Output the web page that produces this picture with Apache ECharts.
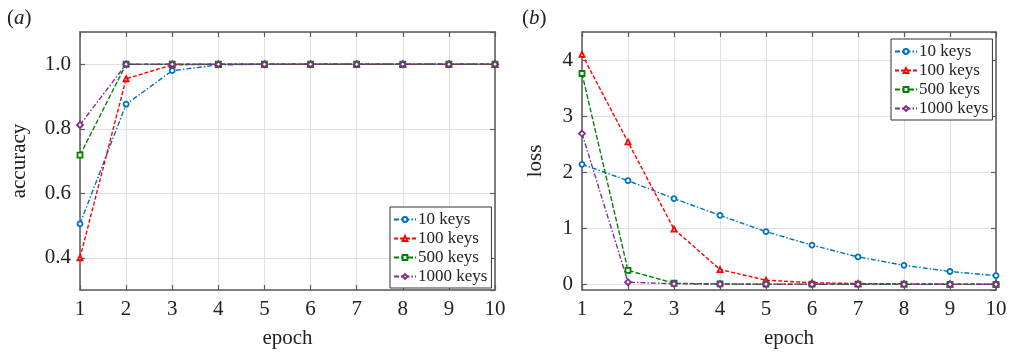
<!DOCTYPE html>
<html>
<head>
<meta charset="utf-8">
<script src="https://cdn.jsdelivr.net/npm/echarts@6/dist/echarts.min.js"></script>
<style>html,body{margin:0;padding:0;background:#fff}#c{width:1010px;height:354px}</style>
</head>
<body>
<div id="c"></div>
<script>
const epochs = [1,2,3,4,5,6,7,8,9,10];
const seriesNames = ['10 keys','100 keys','500 keys','1000 keys'];
const acc10   = [0.505, 0.876, 0.980, 0.998, 1.0, 1.0, 1.0, 1.0, 1.0, 1.0];
const acc100  = [0.400, 0.955, 0.998, 1.0, 1.0, 1.0, 1.0, 1.0, 1.0, 1.0];
const acc500  = [0.718, 1.0, 1.0, 1.0, 1.0, 1.0, 1.0, 1.0, 1.0, 1.0];
const acc1000 = [0.812, 1.0, 1.0, 1.0, 1.0, 1.0, 1.0, 1.0, 1.0, 1.0];
const loss10   = [2.14, 1.85, 1.53, 1.23, 0.94, 0.70, 0.49, 0.34, 0.23, 0.155];
const loss100  = [4.10, 2.54, 0.985, 0.265, 0.075, 0.03, 0.015, 0.01, 0.005, 0.005];
const loss500  = [3.76, 0.25, 0.02, 0.008, 0.005, 0.004, 0.003, 0.003, 0.002, 0.002];
const loss1000 = [2.69, 0.04, 0.01, 0.005, 0.003, 0.002, 0.002, 0.001, 0.001, 0.001];

const colors = ['#0072BD', '#FF0000', '#008000', '#7E2F8E'];
const symbols = ['circle', 'triangle', 'rect', 'diamond'];
const dashes = [[5,2,1.5,2], [4,2], [5,2], [5,2,1.5,2]];
const FONT = 'Liberation Serif';
const TXT = '#222';
const AX = '#5a5a5a';

function pairs(ys){ return epochs.map((e,i)=>[e, ys[i]]); }

function mkX(gridIndex, pos){
  const main = pos === 'bottom';
  return {
    type:'value', gridIndex, position:pos, min:1, max:10, interval:1,
    name: main ? 'epoch' : '', nameLocation:'middle', nameGap:38,
    nameTextStyle:{fontFamily:FONT, fontSize:21, color:TXT},
    axisLine:{show:true, onZero:false, lineStyle:{color:AX, width:1.5}},
    axisTick:{show:true, inside:true, length:5, lineStyle:{color:AX, width:1.2}},
    axisLabel:{show:main, margin:9, fontFamily:FONT, fontSize:21, color:TXT},
    splitLine:{show:main, lineStyle:{color:'#e0e0e0', width:1}}
  };
}
function mkY(gridIndex, pos, name, min, max, splitNumber, gap, fmt){
  const main = pos === 'left';
  return {
    type:'value', gridIndex, position:pos, min, max, splitNumber,
    name: main ? name : '', nameLocation:'middle', nameGap:gap,
    nameTextStyle:{fontFamily:FONT, fontSize:21, color:TXT},
    axisLine:{show:true, onZero:false, lineStyle:{color:AX, width:1.5}},
    axisTick:{show:true, inside:true, length:5, lineStyle:{color:AX, width:1.2}},
    axisLabel:{show:main, margin:9, fontFamily:FONT, fontSize:21, color:TXT,
      showMinLabel:false, showMaxLabel:false, formatter:fmt},
    splitLine:{show:main, lineStyle:{color:'#e0e0e0', width:1}}
  };
}

const accData = [acc10, acc100, acc500, acc1000];
const lossData = [loss10, loss100, loss500, loss1000];
const series = [];
function addSeries(datas, xi, yi){
  datas.forEach((d, k)=>{
    series.push({
      name: seriesNames[k], type:'line', xAxisIndex:xi, yAxisIndex:yi,
      data: pairs(d), symbol: symbols[k], symbolSize: k===3 ? 6 : 5,
      showSymbol:true, animation:false, z: 3 + k,
      lineStyle:{color:colors[k], width:1.4, type:dashes[k]},
      itemStyle:{color:'#fff', borderColor:colors[k], borderWidth:1.8}
    });
  });
}
addSeries(accData, 0, 0);
addSeries(lossData, 2, 2);

function mkLegend(left, top){
  return {
    orient:'vertical', left, top, data:seriesNames,
    itemWidth:22, itemHeight:6, itemGap:2,
    padding:[4,4,3,3], borderColor:'#333', borderWidth:1, backgroundColor:'#fff',
    textStyle:{fontFamily:FONT, fontSize:17, color:TXT, padding:[0,0,0,-3]},
    selectedMode:false
  };
}

const chart = echarts.init(document.getElementById('c'), null, {renderer:'canvas'});
chart.setOption({
  animation:false,
  backgroundColor:'#fff',
  grid:[
    {left:80, top:32, width:415, height:260},
    {left:582, top:32, width:414, height:260}
  ],
  xAxis:[mkX(0,'bottom'), mkX(0,'top'), mkX(1,'bottom'), mkX(1,'top')],
  yAxis:[
    mkY(0,'left','accuracy',0.3,1.1,4,50, v => v.toFixed(1)),
    mkY(0,'right','',0.3,1.1,4,0),
    mkY(1,'left','loss',-0.1,4.5,5,36),
    mkY(1,'right','',-0.1,4.5,5,0)
  ],
  legend:[mkLegend(390,207), mkLegend(891,39)],
  graphic:[
    {type:'text', left:7, top:8, style:{text:'{p|(}{i|a}{p|)}', rich:{
      p:{fontFamily:FONT, fontSize:21, fill:TXT},
      i:{fontFamily:FONT, fontSize:21, fontStyle:'italic', fill:TXT}}}},
    {type:'text', left:522, top:8, style:{text:'{p|(}{i|b}{p|)}', rich:{
      p:{fontFamily:FONT, fontSize:21, fill:TXT},
      i:{fontFamily:FONT, fontSize:21, fontStyle:'italic', fill:TXT}}}}
  ],
  series
});
</script>
</body>
</html>
